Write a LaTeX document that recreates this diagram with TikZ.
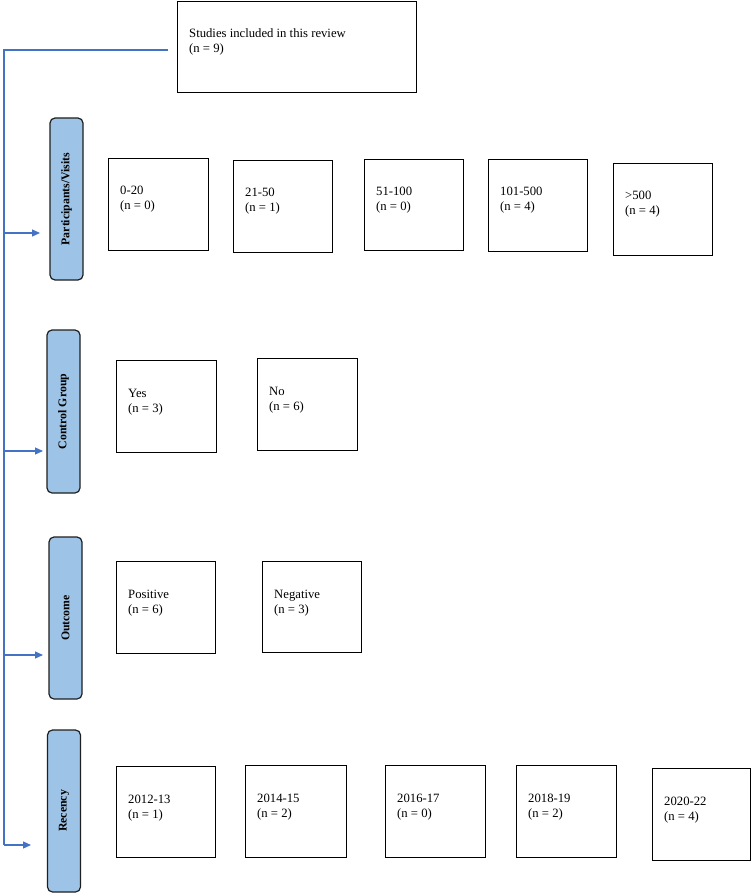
\documentclass[tikz,border=0pt]{standalone}
\usepackage{fontspec}
\setmainfont{Liberation Serif}
\usetikzlibrary{arrows.meta}
\definecolor{flowblue}{HTML}{4472C4}
\definecolor{catfill}{HTML}{9DC3E6}
\definecolor{catedge}{HTML}{1F1F1F}
\tikzset{
  wbox/.style={draw=black, line width=1.4pt, fill=white, anchor=north west, inner sep=0pt},
  txt/.style={anchor=base west, inner sep=0pt, font=\fontsize{12.7}{15}\selectfont},
  catbox/.style={draw=catedge, line width=1.2pt, fill=catfill, rounded corners=5pt, rotate=90,
     minimum height=33pt, inner sep=0pt, font=\fontsize{11.8}{14}\selectfont\bfseries},
  spine/.style={draw=flowblue, line width=2.2pt},
  arr/.style={draw=flowblue, line width=1.2pt, -{Triangle[length=8pt,width=7pt]}}
}
\newcommand{\twol}[2]{\begin{tabular}[t]{@{}l@{}}#1\\#2\end{tabular}}
\newcommand{\wb}[6]{%
  \node[wbox, minimum width=#4pt, minimum height=#5pt] (#1) at (#2,#3) {};
  \node[txt] at ([shift={(12,37)}]#1.north west) {#6};}
\begin{document}
\begin{tikzpicture}[x=1pt,y=-1pt]
\useasboundingbox (0,0) rectangle (752,893);
% top box
\wb{studies}{177}{1}{239}{91}{\twol{Studies included in this review}{(n = 9)}}
% participants row
\wb{p1}{108}{158}{100}{92}{\twol{0-20}{(n = 0)}}
\wb{p2}{233}{160}{99}{92}{\twol{21-50}{(n = 1)}}
\wb{p3}{364}{159}{99}{91}{\twol{51-100}{(n = 0)}}
\wb{p4}{488}{159}{99}{92}{\twol{101-500}{(n = 4)}}
\wb{p5}{613}{163}{99}{92}{\twol{>500}{(n = 4)}}
% control group
\wb{c1}{116}{360}{100}{92}{\twol{Yes}{(n = 3)}}
\wb{c2}{257}{358}{100}{92}{\twol{No}{(n = 6)}}
% outcome
\wb{o1}{116}{561}{99}{92}{\twol{Positive}{(n = 6)}}
\wb{o2}{262}{561}{99}{91}{\twol{Negative}{(n = 3)}}
% recency
\wb{r1}{116}{766}{99}{91}{\twol{2012-13}{(n = 1)}}
\wb{r2}{245}{765}{101}{92}{\twol{2014-15}{(n = 2)}}
\wb{r3}{385}{765}{100}{92}{\twol{2016-17}{(n = 0)}}
\wb{r4}{516}{765}{100}{92}{\twol{2018-19}{(n = 2)}}
\wb{r5}{652}{768}{98}{92}{\twol{2020-22}{(n = 4)}}
% category boxes
\node[catbox, minimum width=162pt] (catP) at (66.5,199) {Participants/Visits};
\node[catbox, minimum width=163pt] (catC) at (63.5,411.5) {Control Group};
\node[catbox, minimum width=162pt] (catO) at (65.5,618) {Outcome};
\node[catbox, minimum width=162pt] (catR) at (64,811) {Recency};
% spine
\coordinate (sTop) at (168,50);
\coordinate (sCorner) at (4,50);
\coordinate (sP) at (4,233);
\coordinate (sC) at (4,451);
\coordinate (sO) at (4,655);
\coordinate (sR) at (4,845);
\coordinate (tP) at (40,233);
\coordinate (tC) at (43,451);
\coordinate (tO) at (43,655);
\coordinate (tR) at (31,845);
\draw[spine, line join=miter] (sTop) -- (sCorner) -- (sR);
\draw[arr] (sP) -- (tP);
\draw[arr] (sC) -- (tC);
\draw[arr] (sO) -- (tO);
\draw[arr] (sR) -- (tR);
\end{tikzpicture}
\end{document}
